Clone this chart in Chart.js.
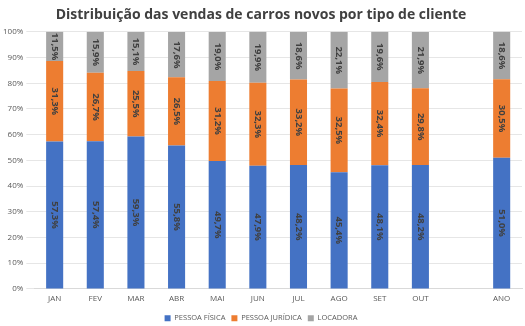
<!DOCTYPE html>
<html>
<head>
<meta charset="utf-8">
<script src="https://cdn.jsdelivr.net/npm/chart.js@4"></script>
<style>
  html, body { margin: 0; padding: 0; background: #fff; }
  #wrap { width: 525px; height: 326px; }
</style>
</head>
<body>
<div id="wrap"><canvas id="myChart"></canvas></div>
<script>
// meses (slot vazio antes do total do ano)
var meses = ["JAN", "FEV", "MAR", "ABR", "MAI", "JUN", "JUL", "AGO", "SET", "OUT", "", "ANO"];
var pessoaFisica   = [57.3, 57.4, 59.3, 55.8, 49.7, 47.9, 48.2, 45.4, 48.1, 48.2, null, 51.0];
var pessoaJuridica = [31.3, 26.7, 25.5, 26.5, 31.2, 32.3, 33.2, 32.5, 32.4, 29.8, null, 30.5];
var locadora       = [11.5, 15.9, 15.1, 17.6, 19.0, 19.9, 18.6, 22.1, 19.6, 21.9, null, 18.6];

function pct(v) {
  return v.toFixed(1).replace(".", ",") + "%";
}

// rotulos verticais no meio de cada segmento
var rotulos = {
  id: "rotulos",
  afterDatasetsDraw: function(chart) {
    var ctx = chart.ctx;
    ctx.save();
    ctx.font = "bold 9.5px 'Open Sans'";
    ctx.fillStyle = "#404040";
    ctx.textAlign = "center";
    ctx.textBaseline = "middle";
    chart.data.datasets.forEach(function(ds, i) {
      var meta = chart.getDatasetMeta(i);
      meta.data.forEach(function(bar, j) {
        var v = ds.data[j];
        if (v == null) return;
        var top = Math.max(bar.y, chart.chartArea.top);
        var yc = (top + bar.base) / 2;
        ctx.save();
        ctx.translate(bar.x, yc);
        ctx.rotate(Math.PI / 2);
        ctx.fillText(pct(v), 0, 0);
        ctx.restore();
      });
    });
    ctx.restore();
  }
};

var ctx = document.getElementById('myChart').getContext('2d');
var chart = new Chart(ctx, {
    type: 'bar',
    data: {
        labels: meses,
        datasets: [{
            label: "PESSOA FÍSICA",
            backgroundColor: '#4472C4',
            data: pessoaFisica
        }, {
            label: "PESSOA JURÍDICA",
            backgroundColor: '#ED7D31',
            data: pessoaJuridica
        }, {
            label: "LOCADORA",
            backgroundColor: '#A5A5A5',
            data: locadora
        }]
    },
    plugins: [rotulos],
    options: {
        responsive: true,
        maintainAspectRatio: false,
        animation: false,
        layout: { padding: { left: 0, right: 3, top: 7, bottom: -6 } },
        datasets: {
            bar: { categoryPercentage: 1, barPercentage: 0.42 }
        },
        plugins: {
            title: {
                display: true,
                text: "Distribuição das vendas de carros novos por tipo de cliente",
                color: '#404040',
                font: { family: "'Open Sans'", size: 14, weight: 'bold' },
                padding: { top: 0, bottom: 8 }
            },
            legend: {
                position: 'bottom',
                labels: {
                    boxWidth: 6,
                    boxHeight: 6,
                    color: '#595959',
                    font: { family: "'Open Sans'", size: 7.5 },
                    padding: 6
                }
            },
            tooltip: { enabled: false }
        },
        scales: {
            x: {
                stacked: true,
                grid: { display: false, drawTicks: false },
                border: { color: '#d9d9d9' },
                ticks: { padding: 5, color: '#595959', font: { family: "'Open Sans'", size: 8 }, autoSkip: false, maxRotation: 0 }
            },
            y: {
                stacked: true,
                min: 0,
                max: 100,
                grid: { color: '#e6e6e6' },
                border: { display: false },
                ticks: {
                    stepSize: 10,
                    color: '#595959',
                    font: { family: "'Open Sans'", size: 8 },
                    callback: function(v) { return v + "%"; }
                }
            }
        }
    }
});
</script>
</body>
</html>
